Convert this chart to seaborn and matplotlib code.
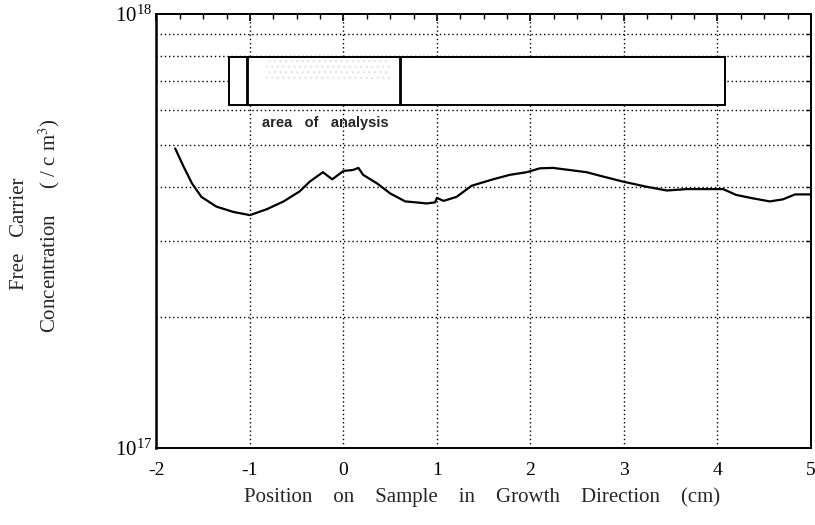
import numpy as np
import pandas as pd
import matplotlib
matplotlib.use("Agg")
import matplotlib.pyplot as plt
from matplotlib.patches import Rectangle
from matplotlib.ticker import FixedLocator, FixedFormatter, LogLocator, NullFormatter, MultipleLocator
import seaborn as sns

# Measured free carrier concentration along the growth direction
position_cm = [-1.80, -1.71, -1.62, -1.52, -1.36, -1.18, -1.00, -0.82, -0.64,
               -0.47, -0.36, -0.22, -0.12, 0.00, 0.10, 0.16, 0.21, 0.36, 0.50,
               0.66, 0.78, 0.89, 0.98, 1.00, 1.07, 1.21, 1.37, 1.60, 1.78,
               1.96, 2.10, 2.24, 2.42, 2.60, 2.78, 2.99, 3.24, 3.46, 3.67,
               3.88, 4.06, 4.20, 4.38, 4.56, 4.70, 4.83, 4.99]
concentration = [4.90e17, 4.45e17, 4.07e17, 3.79e17, 3.60e17, 3.50e17, 3.44e17,
                 3.55e17, 3.70e17, 3.90e17, 4.11e17, 4.32e17, 4.16e17, 4.35e17,
                 4.37e17, 4.42e17, 4.26e17, 4.07e17, 3.86e17, 3.70e17, 3.68e17,
                 3.66e17, 3.68e17, 3.77e17, 3.71e17, 3.79e17, 4.02e17, 4.16e17,
                 4.26e17, 4.32e17, 4.41e17, 4.42e17, 4.37e17, 4.32e17, 4.22e17,
                 4.11e17, 4.00e17, 3.92e17, 3.95e17, 3.95e17, 3.95e17, 3.83e17,
                 3.76e17, 3.70e17, 3.74e17, 3.84e17, 3.84e17]

# Sample sketch: whole sample extent and the analysed section
sample_x = [-1.225, 4.083]
analysis_x = [-1.03, 0.61]
sketch_y = [6.17e17, 7.95e17]

x_ticks = [-2, -1, 0, 1, 2, 3, 4, 5]
y_ticks = [1e17, 1e18]
y_tick_labels = [r"$\mathregular{10^{17}}$", r"$\mathregular{10^{18}}$"]

sns.set_style("white")
plt.rcParams["font.family"] = ["Liberation Serif", "DejaVu Serif"]
plt.rcParams["mathtext.fontset"] = "stix"
plt.rcParams["hatch.linewidth"] = 0.8

fig = plt.figure(figsize=(8.15, 5.25), dpi=100)
ax = fig.add_axes([0.192, 0.1467, 0.803, 0.8266])

df = pd.DataFrame({"pos": position_cm, "n": concentration})
sns.lineplot(data=df, x="pos", y="n", color="black", linewidth=1.6, ax=ax, zorder=4)

ax.set_yscale("log")
ax.set_xlim(-2, 5)
ax.set_ylim(1e17, 1e18)

ax.xaxis.set_major_locator(FixedLocator(x_ticks))
ax.xaxis.set_minor_locator(MultipleLocator(0.25))
ax.yaxis.set_major_locator(FixedLocator(y_ticks))
ax.yaxis.set_major_formatter(FixedFormatter(y_tick_labels))
ax.yaxis.set_minor_locator(LogLocator(base=10, subs=np.arange(2, 10)))
ax.yaxis.set_minor_formatter(NullFormatter())
ax.set_xticklabels([str(t) for t in x_ticks])

ax.grid(False)
ax.grid(True, which="major", axis="x", color="black", linestyle=(0, (1, 2)), linewidth=1.0)
ax.grid(True, which="minor", axis="y", color="black", linestyle=(0, (1, 2)), linewidth=1.0)

ax.tick_params(which="both", direction="in", top=True, right=True, colors="black")
ax.tick_params(which="major", length=5, width=1.2, labelsize=14, pad=10)
ax.tick_params(which="minor", length=3.5, width=1.0)
ax.tick_params(axis="y", which="major", pad=3, labelsize=15)

for s in ax.spines.values():
    s.set_visible(True)
    s.set_color("black")
    s.set_linewidth(1.4)
ax.spines["left"].set_linewidth(1.8)

ax.set_xlabel("")
ax.set_ylabel("")

# Sample sketch with the analysed region marked
ax.add_patch(Rectangle((sample_x[0], sketch_y[0]), sample_x[1] - sample_x[0],
                       sketch_y[1] - sketch_y[0], facecolor="white",
                       edgecolor="black", linewidth=1.4, zorder=5))
ax.add_patch(Rectangle((analysis_x[0] + 0.2, 7.0e17), analysis_x[1] - analysis_x[0] - 0.3,
                       sketch_y[1] - 7.05e17, facecolor="none", edgecolor="#e2e2e2",
                       linewidth=0, hatch="...", zorder=5))
for xv in analysis_x:
    ax.plot([xv, xv], sketch_y, color="black", linewidth=2.0, zorder=6,
            solid_capstyle="butt")
ax.text((analysis_x[0] + analysis_x[1]) / 2 + 0.02, 5.6e17, "area   of   analysis",
        ha="center", va="center", fontsize=10.5, fontweight="bold",
        family=["Liberation Sans", "DejaVu Sans"], zorder=6)

fig.text(0.592, 0.053, "Position    on    Sample    in    Growth    Direction    (cm)",
         ha="center", va="center", fontsize=15)
fig.text(0.024, 0.555, "Free   Carrier", rotation=90, ha="center", va="center",
         fontsize=15)
fig.text(0.060, 0.57, r"Concentration     ( / c m$^{3}$)", rotation=90, ha="center",
         va="center", fontsize=15)

fig.savefig("out.png", dpi=100, facecolor="white")
